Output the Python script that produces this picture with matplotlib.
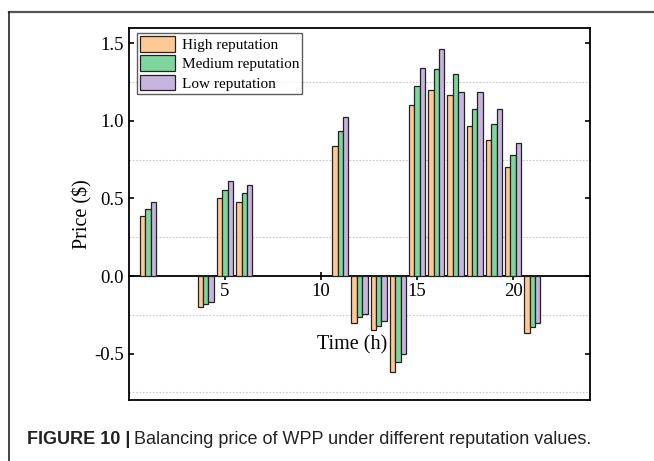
import matplotlib
matplotlib.use("Agg")
import matplotlib.pyplot as plt
import numpy as np
from matplotlib.lines import Line2D

# Balancing price per hour for each reputation level (0 = no bar)
hours = np.arange(1, 25)
high = [0.39, 0, 0, -0.20, 0.50, 0.48, 0, 0, 0, 0, 0.84, -0.30,
        -0.35, -0.62, 1.10, 1.20, 1.17, 0.97, 0.88, 0.70, -0.37, 0, 0, 0]
medium = [0.43, 0, 0, -0.18, 0.555, 0.535, 0, 0, 0, 0, 0.935, -0.265,
          -0.32, -0.555, 1.225, 1.335, 1.305, 1.08, 0.98, 0.78, -0.33, 0, 0, 0]
low = [0.475, 0, 0, -0.165, 0.61, 0.59, 0, 0, 0, 0, 1.025, -0.245,
       -0.29, -0.505, 1.345, 1.465, 1.19, 1.19, 1.08, 0.855, -0.305, 0, 0, 0]
labels = ["High reputation", "Medium reputation", "Low reputation"]
colors = ["#FFC996", "#7ED69C", "#C6B4DC"]

plt.rcParams["font.family"] = "Liberation Serif"
plt.rcParams["axes.unicode_minus"] = False

fig = plt.figure(figsize=(6.54, 4.61), dpi=100)
ax = fig.add_axes([0.1972, 0.1323, 0.7049, 0.8070])

w = 0.28
for i, (vals, lab, c) in enumerate(zip([high, medium, low], labels, colors)):
    vals = np.array(vals)
    mask = vals != 0
    ax.bar(hours[mask] + (i - 1) * w, vals[mask], width=w, color=c,
           edgecolor="#222222", linewidth=0.9, label=lab, zorder=3)

ax.set_xlim(0, 24)
ax.set_ylim(-0.8, 1.6)
ax.set_xticks([5, 10, 15, 20])
ax.set_yticks([-0.5, 0.0, 0.5, 1.0, 1.5])
ax.set_yticks([-0.75, -0.25, 0.25, 0.75, 1.25], minor=True)
ax.yaxis.set_major_formatter(plt.FormatStrFormatter("%.1f"))
ax.grid(which="minor", axis="y", linestyle=(0, (1.5, 1.5)), color="#c8c8c8", linewidth=0.8)
ax.set_axisbelow(True)

ax.spines["bottom"].set_position(("data", 0))
for s in ax.spines.values():
    s.set_linewidth(1.3)
ax.add_line(Line2D([0, 1], [0, 0], transform=ax.transAxes, color="black",
                   linewidth=1.3, clip_on=False))
ax.tick_params(axis="x", direction="inout", length=6, width=1.2, labelsize=13.5, pad=2)
ax.tick_params(axis="y", direction="in", length=3.5, width=1.2, labelsize=13.5,
               right=True, which="major")
ax.tick_params(axis="y", which="minor", length=0)

ax.set_xlabel("Time (h)", fontsize=14.5)
ax.xaxis.set_label_coords(0.484, 0.175)
ax.set_ylabel("Price ($)", fontsize=14.5)
ax.yaxis.set_label_coords(-0.08, 0.5)

leg = ax.legend(loc="upper left", bbox_to_anchor=(0.018, 0.987), fontsize=11,
                frameon=True, fancybox=False, edgecolor="#333333",
                handlelength=2.3, handleheight=1.2, labelspacing=0.22,
                handletextpad=0.4, borderpad=0.2, borderaxespad=0)
leg.get_frame().set_linewidth(1.0)

# page frame lines
fig.add_artist(Line2D([9 / 654, 1], [1 - 12 / 461] * 2, color="#555555", linewidth=1.6))
fig.add_artist(Line2D([9 / 654] * 2, [0, 1 - 12 / 461], color="#222222", linewidth=1.2))

# caption
cap_y = 1 - 439 / 461
t1 = fig.text(27 / 654, cap_y, "FIGURE 10 |", family="Liberation Sans",
              weight="bold", fontsize=13, va="center", color="#222222")
r = fig.canvas.get_renderer()
bb = t1.get_window_extent(renderer=r)
fig.text((bb.x1 + 4) / 654, cap_y,
         "Balancing price of WPP under different reputation values.",
         family="Liberation Sans", fontsize=13, va="center", color="#222222")

fig.savefig("out.png", dpi=100)
